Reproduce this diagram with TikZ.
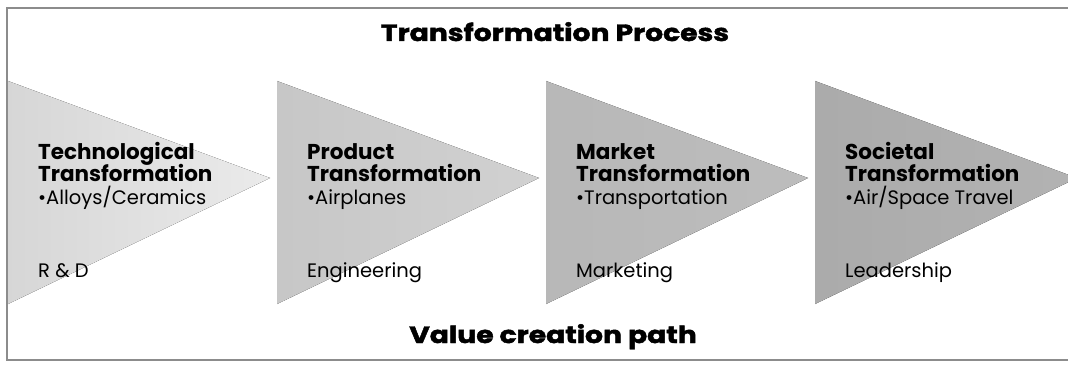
\documentclass[tikz,border=0pt]{standalone}
\usepackage{fontspec}
\setmainfont{Poppins}
\newfontfamily\heavyfont{Poppins}[BoldFeatures={FakeBold=2,FakeStretch=1.2}]
\usetikzlibrary{positioning}

\definecolor{frameline}{HTML}{8C8C8C}

\tikzset{
  headtext/.style={anchor=base west, inner sep=0pt, font=\fontsize{21.5}{24}\selectfont\bfseries},
  itemtext/.style={anchor=base west, inner sep=0pt, font=\fontsize{19.5}{22}\selectfont},
  pathtitle/.style={anchor=base, inner sep=0pt, font=\fontsize{23.5}{26}\selectfont\heavyfont\bfseries}
}

\begin{document}
\begin{tikzpicture}[x=1pt,y=1pt]
        \clip (0,0) rectangle (1068,370);
        \fill[white] (0,0) rectangle (1068,370);

        % Four stages: left edge, shade at left/right, texts
        \foreach \l/\dk/\lt/\what/\thing/\dept/\n in {
            8/16/8/Technological/{Alloys/Ceramics}/{R \& D}/tech,
            277/22/18/Product/Airplanes/Engineering/prod,
            546/28/26/Market/Transportation/Marketing/mark,
            815/33/30/Societal/{Air/Space Travel}/Leadership/soc} {
            \fill[left color=black!\dk, right color=black!\lt]
                (\l,289) -- (\l+262,192) -- (\l,66) -- cycle;
            \node[headtext] (\n-a) at (\l+30,211) {\what};
            \node[headtext] (\n-b) at (\l+30,189) {Transformation};
            \node[itemtext] (\n-item) at (\l+30,166) {\textbullet\thing};
            \node[itemtext] (\n-dept) at (\l+30,93) {\dept};
        }

        % Titles
        \node[pathtitle] (process) at (555,329) {Transformation Process};
        \node[pathtitle] (valuepath) at (553,27) {Value creation path};

        % Frame, right side runs off the page
        \draw[frameline, line width=1.2pt] (7,10) rectangle (1080,362);
\end{tikzpicture}
\end{document}
